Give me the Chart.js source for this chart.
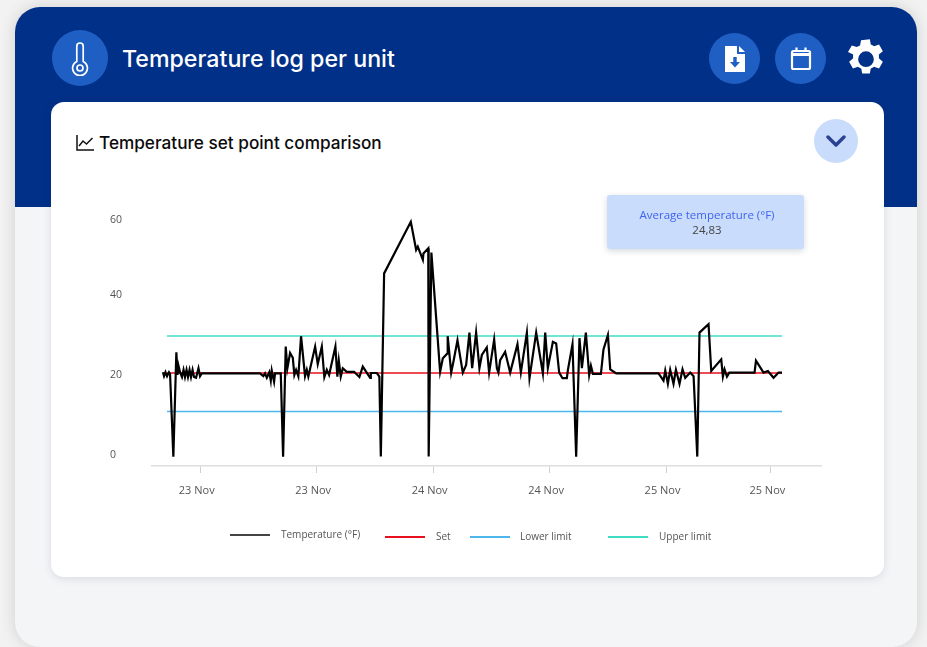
<!DOCTYPE html>
<html>
<head>
<meta charset="utf-8">
<title>Temperature log per unit</title>
<script src="https://cdn.jsdelivr.net/npm/chart.js@4"></script>
<style>
html,body{margin:0;padding:0;width:927px;height:647px;overflow:hidden;background:#f2f2f2;font-family:"Noto Sans",sans-serif}
.panel{position:absolute;left:15px;top:7px;width:902px;height:640px;border-radius:25px;background:#f4f5f7;overflow:hidden;box-shadow:0 0 16px rgba(0,0,0,.14)}
.band{position:absolute;left:0;top:0;width:100%;height:200px;background:#003087}
.card{position:absolute;left:51px;top:102px;width:833px;height:475px;background:#fff;border-radius:13px;box-shadow:0 2px 8px rgba(30,40,70,.12)}
.round{position:absolute;border-radius:50%;background:#1f5fc4;display:flex;align-items:center;justify-content:center}
h1{position:absolute;left:122px;top:43px;margin:0;font:500 23.200px/32px Inter,Roboto,sans-serif;color:#fff;white-space:nowrap}
h2{position:absolute;left:99px;top:131px;margin:0;font:500 17.200px/24px Inter,Roboto,sans-serif;color:#0b0b0b;white-space:nowrap}
canvas{position:absolute;left:0;top:0}
.info{position:absolute;left:607px;top:195px;width:197px;height:54px;background:#c9dcfb;border-radius:3px;box-shadow:0 2px 6px rgba(30,40,70,.18);text-align:center;font-size:11.500px;line-height:15px;color:#444;padding-top:12px;padding-left:3px;box-sizing:border-box;font-family:"Open Sans",sans-serif}
.info b{display:block;font-weight:400;color:#3f63f0}
.leg{position:absolute;font-size:10px;line-height:14px;color:#555;white-space:nowrap;font-family:"Open Sans",sans-serif}
.legl{position:absolute;width:40px;height:1.500px}
</style>
</head>
<body>
<div class="panel"><div class="band"></div></div>
<div class="card"></div>
<div class="round" style="left:52px;top:30px;width:56px;height:56px">
<svg width="30" height="36" viewBox="0 0 30 36" fill="none" stroke="#fff" stroke-width="1.700"><path d="M11.800 21.500V6.200a3.200 3.200 0 0 1 6.400 0v15.300a7.400 7.400 0 1 1-6.400 0z"/><circle cx="15" cy="28" r="3"/></svg>
</div>
<h1>Temperature log per unit</h1>
<div class="round" style="left:709px;top:33px;width:51px;height:51px">
<svg width="22" height="28" viewBox="0 0 22 28"><path fill="#fff" d="M1 1h12v8h8v18H1z"/><path fill="#fff" d="M15 1l6 6h-6z"/><path fill="#1f5fc4" d="M9.300 12h3.400v5h3.300L11 22.500 6 17h3.300z"/></svg>
</div>
<div class="round" style="left:775px;top:33px;width:51px;height:51px">
<svg width="24" height="26" viewBox="0 0 24 26" fill="none" stroke="#fff" stroke-width="2.200"><rect x="3" y="5" width="18" height="18" rx="1.500"/><path d="M3 8.500h18" stroke-width="3"/><path d="M7.500 1.500v4M16.500 1.500v4" /></svg>
</div>
<svg style="position:absolute;left:843px;top:36px" width="46" height="46" viewBox="0 0 24 24"><path fill="#fff" fill-rule="evenodd" d="M13.900 1.500l.5 2.700c.6.200 1.200.5 1.700.9l2.600-.9 2 3.500-2.100 1.800c.1.600.1 1.300 0 1.900l2.100 1.800-2 3.500-2.600-.9c-.5.400-1.100.7-1.700.9l-.5 2.700h-4l-.5-2.700c-.6-.2-1.200-.5-1.700-.9l-2.600.9-2-3.500 2.100-1.800c-.1-.6-.1-1.300 0-1.900L2.500 8.200l2-3.500 2.600.9c.5-.4 1.100-.7 1.700-.9l.5-2.700zM11.900 7.800a4.100 4.100 0 1 0 0 8.200 4.100 4.100 0 0 0 0-8.200z" transform="translate(.1 .2)"/></svg>
<svg style="position:absolute;left:76px;top:135px" width="18" height="16" viewBox="0 0 18 16" fill="none" stroke="#111" stroke-width="1.500"><path d="M1 0v15h17"/><path d="M3 11l4-5 3.500 3L16.500 3"/></svg>
<h2>Temperature set point comparison</h2>
<div class="round" style="left:814px;top:119px;width:44px;height:44px;background:#c9dcfb">
<svg width="20" height="12" viewBox="0 0 20 12" fill="none" stroke="#2a4290" stroke-width="3.400" stroke-linecap="round" stroke-linejoin="round"><path d="M2 2l8 8 8-8"/></svg>
</div>
<canvas id="c" width="927" height="647"></canvas>
<div class="info"><b>Average temperature (°F)</b>24,83</div>
<div id="legend"></div>
<script>
const tickHours = [6, 18, 30, 42, 54, 64.8];
const tickLabels = ["23 Nov", "23 Nov", "24 Nov", "24 Nov", "25 Nov", "25 Nov"];
const yTickValues = [0, 20, 40, 58.75];
const yTickLabels = ["0", "20", "40", "60"];
const seriesNames = ["Temperature (°F)", "Set", "Lower limit", "Upper limit"];
const limitHours = [2.58, 65.95];
const setValues = [21, 21];
const lowerValues = [11.4, 11.4];
const upperValues = [30.25, 30.25];
const tempHours = [2.16,2.27,2.42,2.58,2.78,2.89,3.23,3.54,3.66,3.76,3.92,4.12,4.28,4.43,4.59,4.74,4.9,5.05,5.21,5.36,5.57,5.82,5.98,6.15,12.16,12.5,12.68,12.86,13.12,13.27,13.37,13.61,13.71,14.3,14.54,14.81,14.98,15.26,15.54,15.7,15.88,16.11,16.39,16.8,16.98,17.14,17.84,18.11,18.53,18.79,19.04,19.28,19.93,20.13,20.28,20.48,20.69,21.1,21.86,22.4,22.75,23.51,23.58,24.2,24.46,24.61,24.95,27.7,28.25,28.42,28.94,29,29.5,29.54,29.82,30.72,31,31.47,31.5,31.86,32.09,32.51,33.06,33.4,33.74,34.02,34.43,34.77,35.02,35.53,35.77,36.29,36.57,36.73,36.91,37.42,37.94,38.69,39.04,39.66,39.93,40.62,41.31,41.55,41.82,42.34,42.68,42.99,43.33,43.78,43.89,44.36,44.74,45.08,45.33,45.74,46.08,46.26,46.46,47.29,47.55,48.01,48.25,48.87,53.23,53.74,53.92,54.19,54.43,54.77,55.02,55.39,55.7,55.98,56.49,56.84,57.22,57.45,58.38,58.66,59.69,59.86,60.03,60.28,60.52,63.12,63.27,64.05,64.5,65.08,65.6,65.95];
const tempValues = [21.2,20.2,21.2,20.2,21.2,20.8,0.1,26.2,20.5,22.8,21.2,20,21.8,20,21.8,20,21.8,20,21.8,20,19.8,22.2,20.2,20.9,20.9,20.2,20.9,19.8,21.2,19.1,21.6,18.8,20.9,20.9,0.1,27.6,22.2,26,24.8,20.5,21.8,20.2,30.2,20.2,21.8,20.1,27.6,23.2,27.6,20,21.8,20.5,27.6,20.1,24.1,20.1,22.2,21.3,21.3,20,22.6,19.8,21,21,20.1,0.1,45.9,58.8,51.8,52.6,49.3,50.9,52.2,0.1,51.1,21.3,24.7,25.9,30.2,21.1,23.8,29.2,21.1,23,31.1,22.2,31.1,22.2,25.5,27.4,21.1,29.4,22.2,21.1,24.2,26.3,21.1,28.2,21.1,31.1,19.7,31.1,20.9,31.1,22.2,28.8,28.4,21.1,19.7,19.7,21.8,28.2,0.1,29.7,22.2,31.1,20.5,22.8,20.8,20.8,26.8,30.5,21.9,20.9,20.9,19.1,21.6,18.3,21.8,18.3,21.8,18.3,21.9,19.8,21.1,20.2,0.1,31.1,33.2,21.5,24.4,20.1,21.9,20.1,21.1,21.1,24.1,21.1,21.5,19.8,21.1,21.1];

const pairs = (xs, ys) => xs.map((x, i) => ({x, y: ys[i]}));
const legendSlots = [[230, 281, 527, 534], [385, 436, 529, 536], [470, 520, 529, 536], [608, 659, 529, 536]];

const htmlLegend = {
  id: "htmlLegend",
  afterInit(chart) {
    const host = document.getElementById("legend");
    chart.data.datasets.forEach((d, i) => {
      const s = legendSlots[i];
      const line = document.createElement("div");
      line.className = "legl";
      line.style.cssText = `left:${s[0]}px;top:${s[3]}px;background:${i === 0 ? "#444" : d.borderColor}`;
      const txt = document.createElement("div");
      txt.className = "leg";
      txt.style.cssText = `left:${s[1]}px;top:${s[2]}px`;
      txt.textContent = d.label;
      host.append(line, txt);
    });
  }
};

new Chart(document.getElementById("c"), {
  type: "line",
  data: {
    datasets: [
      {label: seriesNames[0], data: pairs(tempHours, tempValues), borderColor: "#000000", borderWidth: 2.2, order: 0},
      {label: seriesNames[1], data: pairs(limitHours, setValues), borderColor: "#e8101c", borderWidth: 1.5, order: 1},
      {label: seriesNames[2], data: pairs(limitHours, lowerValues), borderColor: "#4db6ec", borderWidth: 1.5, order: 2},
      {label: seriesNames[3], data: pairs(limitHours, upperValues), borderColor: "#3fdcc4", borderWidth: 1.5, order: 3}
    ]
  },
  plugins: [htmlLegend],
  options: {
    responsive: false,
    animation: false,
    layout: {padding: {left: 110, right: 106, top: 217, bottom: 137}},
    elements: {point: {radius: 0}, line: {tension: 0}},
    plugins: {legend: {display: false}, tooltip: {enabled: false}},
    scales: {
      x: {
        type: "linear",
        min: 1.03,
        max: 69.97,
        afterBuildTicks: s => { s.ticks = tickHours.map(value => ({value})); },
        afterFit: s => { s.height = 44; },
        grid: {drawOnChartArea: false, drawTicks: true, tickLength: 7, color: "#cfcfcf"},
        border: {color: "#dedede", width: 1.5},
        ticks: {
          autoSkip: false, maxRotation: 0, padding: 11, labelOffset: -3.5,
          color: "#555", font: {family: "Open Sans", size: 11},
          callback: (v, i) => tickLabels[i]
        }
      },
      y: {
        min: -2.25,
        max: 60,
        afterBuildTicks: s => { s.ticks = yTickValues.map(value => ({value})); },
        afterFit: s => { s.width = 42; },
        grid: {display: false, drawTicks: false},
        border: {display: false},
        ticks: {
          crossAlign: "far", padding: 0, labelOffset: -2,
          color: "#555", font: {family: "Open Sans", size: 10.5},
          callback: (v, i) => yTickLabels[i]
        }
      }
    }
  }
});
</script>
</body>
</html>
